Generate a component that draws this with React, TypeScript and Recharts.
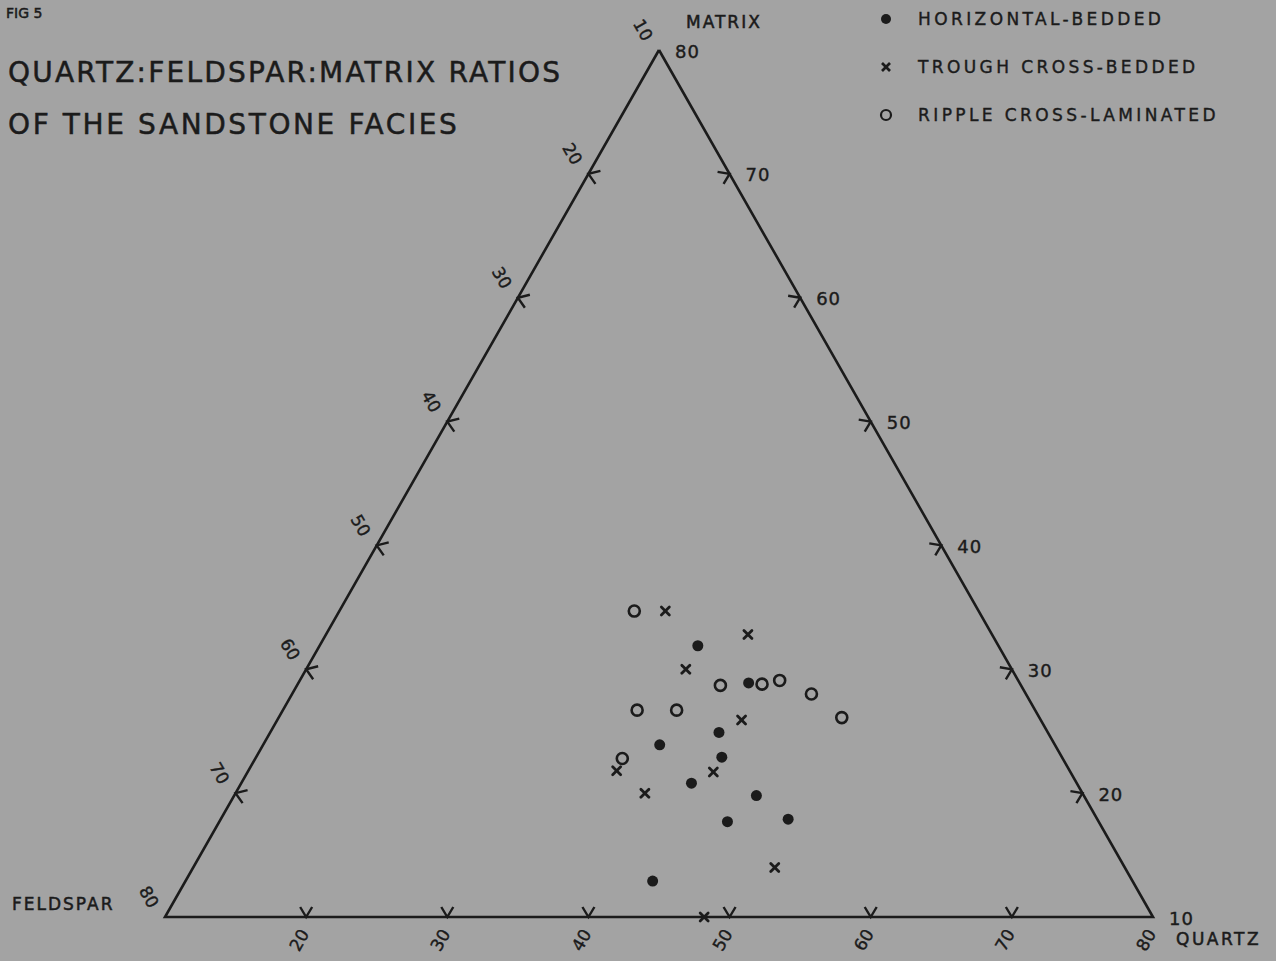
import { ScatterChart, Scatter, XAxis, YAxis, Legend } from 'recharts';

// ternary values (%), each component ranges 10..80 inside the triangle
const horizontalQuartz = [36.8, 41.9, 41.8, 38.1, 43.0, 41.9, 47.0, 46.0, 50.2, 43.1];
const horizontalFeldspar = [31.3, 29.2, 33.3, 38.0, 34.1, 37.3, 33.2, 36.3, 31.9, 44.0];
const horizontalMatrix = [31.9, 28.9, 24.9, 23.9, 22.9, 20.8, 19.8, 17.7, 17.9, 12.9];

const troughQuartz = [33.1, 39.9, 36.9, 42.9, 43.0, 39.0, 51.2, 48.2, 36.1];
const troughFeldspar = [32.2, 27.3, 33.1, 31.2, 35.3, 41.0, 34.8, 41.8, 42.1];
const troughMatrix = [34.7, 32.8, 30.0, 25.9, 21.7, 20.0, 14.0, 10.0, 21.8];

const rippleQuartz = [30.9, 40.0, 42.9, 44.0, 46.8, 35.1, 37.9, 49.9, 36.0];
const rippleFeldspar = [34.4, 31.3, 28.3, 26.9, 25.2, 38.2, 35.4, 24.0, 41.2];
const rippleMatrix = [34.7, 28.7, 28.8, 29.1, 28.0, 26.7, 26.7, 26.1, 22.8];

const feldsparTicks = [20, 30, 40, 50, 60, 70];
const feldsparLabels = [10, 20, 30, 40, 50, 60, 70, 80];
const matrixTicks = [70, 60, 50, 40, 30, 20];
const matrixLabels = [80, 70, 60, 50, 40, 30, 20, 10];
const quartzTicks = [20, 30, 40, 50, 60, 70];
const quartzLabels = [20, 30, 40, 50, 60, 70, 80];

const seriesNames = ['HORIZONTAL-BEDDED', 'TROUGH CROSS-BEDDED', 'RIPPLE CROSS-LAMINATED'];

const INK = '#1b1b1b';
const BG = '#a3a3a3';
const FONT = '"DejaVu Sans", sans-serif';

const W = 1276;
const H = 961;
// plot area mapping: base of triangle 165..1153 px, apex at y=50, base at y=917
const X_MIN = -165 / 988;
const X_MAX = (W - 165) / 988;
const Y_MIN = -(H - 917) / 867;
const Y_MAX = 917 / 867;

const toXY = (q: number, m: number) => {
  const qn = (q - 10) / 70;
  const mn = (m - 10) / 70;
  return { x: qn + mn / 2, y: mn };
};

const buildPoints = (qs: number[], fs: number[], ms: number[]) =>
  qs.map((q, i) => ({ ...toXY(q, ms[i]), q, f: fs[i], m: ms[i] }));

const horizontalData = buildPoints(horizontalQuartz, horizontalFeldspar, horizontalMatrix);
const troughData = buildPoints(troughQuartz, troughFeldspar, troughMatrix);
const rippleData = buildPoints(rippleQuartz, rippleFeldspar, rippleMatrix);

const outline = [toXY(10, 80), toXY(10, 10), toXY(80, 10), toXY(10, 80)];

// left side: quartz = 10, right side: feldspar = 10, base: matrix = 10
const leftTickData = feldsparTicks.map((f) => toXY(10, 90 - f));
const rightTickData = matrixTicks.map((m) => toXY(90 - m, m));
const baseTickData = quartzTicks.map((q) => toXY(q, 10));
const leftLabelData = feldsparLabels.map((f) => ({ ...toXY(10, 90 - f), label: String(f) }));
const rightLabelData = matrixLabels.map((m) => ({ ...toXY(90 - m, m), label: String(m) }));
const baseLabelData = quartzLabels.map((q) => ({ ...toXY(q, 10), label: String(q) }));

const FilledDot = (p: any) => <circle cx={p.cx} cy={p.cy} r={5.5} fill={INK} />;
const OpenDot = (p: any) => (
  <circle cx={p.cx} cy={p.cy} r={5.5} fill="none" stroke={INK} strokeWidth={2.6} />
);
const Cross = (p: any) => (
  <g stroke={INK} strokeWidth={2.8} strokeLinecap="round">
    <line x1={p.cx - 4} y1={p.cy - 4} x2={p.cx + 4} y2={p.cy + 4} />
    <line x1={p.cx - 4} y1={p.cy + 4} x2={p.cx + 4} y2={p.cy - 4} />
  </g>
);

const chevron = (dx1: number, dy1: number, dx2: number, dy2: number) => (p: any) => (
  <polyline
    points={`${p.cx + dx1},${p.cy + dy1} ${p.cx},${p.cy} ${p.cx + dx2},${p.cy + dy2}`}
    fill="none"
    stroke={INK}
    strokeWidth={2.4}
  />
);
const LeftTick = chevron(12, -3, 7, 10);
const RightTick = chevron(-12, -2, -6, 10);
const BaseTick = chevron(-6, -10, 6, -10);

const rotatedLabel = (dx: number, dy: number, angle: number) => (p: any) => {
  const x = p.cx + dx;
  const y = p.cy + dy;
  return (
    <text
      x={x}
      y={y}
      fill={INK}
      fontSize={17}
      fontFamily={FONT}
      stroke={INK}
      strokeWidth={0.4}
      textAnchor="middle"
      dominantBaseline="central"
      transform={`rotate(${angle} ${x} ${y})`}
    >
      {p.payload.label}
    </text>
  );
};
const LeftLabel = rotatedLabel(-16, -20, 60);
const BaseLabel = rotatedLabel(-7, 23, -60);
const RightLabel = (p: any) => (
  <text
    x={p.cx + 16}
    y={p.cy + 1}
    fill={INK}
    stroke={INK}
    strokeWidth={0.4}
    fontSize={18}
    fontFamily={FONT}
    letterSpacing={1}
    dominantBaseline="central"
  >
    {p.payload.label}
  </text>
);

const Nothing = () => <g />;

const legendSymbols = [
  <circle cx={8} cy={8} r={5} fill={INK} />,
  <g stroke={INK} strokeWidth={2.6}>
    <line x1={4} y1={4} x2={12} y2={12} />
    <line x1={4} y1={12} x2={12} y2={4} />
  </g>,
  <circle cx={8} cy={8} r={5} fill="none" stroke={INK} strokeWidth={2.2} />,
];

const renderLegend = () => (
  <div style={{ display: 'flex', flexDirection: 'column', gap: 32 }}>
    {seriesNames.map((name, i) => (
      <div key={name} style={{ display: 'flex', alignItems: 'center', height: 16 }}>
        <svg width={16} height={16} style={{ marginRight: 24 }}>
          {legendSymbols[i]}
        </svg>
        <span
          style={{
            fontFamily: FONT,
            fontSize: 17,
            letterSpacing: 3.4,
            color: INK,
            lineHeight: '16px',
            WebkitTextStroke: '0.4px ' + INK,
          }}
        >
          {name}
        </span>
      </div>
    ))}
  </div>
);

const textStyle = (extra: any) => ({
  position: 'absolute' as const,
  fontFamily: FONT,
  color: INK,
  whiteSpace: 'nowrap' as const,
  lineHeight: 1,
  WebkitTextStroke: '0.5px ' + INK,
  ...extra,
});

export default function App() {
  return (
    <div style={{ position: 'absolute', top: 0, left: 0, width: W, height: H, background: BG, overflow: 'hidden' }}>
      <ScatterChart width={W} height={H} margin={{ top: 0, right: 0, bottom: 0, left: 0 }}>
        <XAxis type="number" dataKey="x" domain={[X_MIN, X_MAX]} allowDataOverflow hide />
        <YAxis type="number" dataKey="y" domain={[Y_MIN, Y_MAX]} allowDataOverflow hide />
        <Scatter data={outline} line={{ stroke: INK, strokeWidth: 2.6 }} shape={Nothing} legendType="none" isAnimationActive={false} />
        <Scatter data={leftTickData} shape={LeftTick} legendType="none" isAnimationActive={false} />
        <Scatter data={rightTickData} shape={RightTick} legendType="none" isAnimationActive={false} />
        <Scatter data={baseTickData} shape={BaseTick} legendType="none" isAnimationActive={false} />
        <Scatter data={leftLabelData} shape={LeftLabel} legendType="none" isAnimationActive={false} />
        <Scatter data={rightLabelData} shape={RightLabel} legendType="none" isAnimationActive={false} />
        <Scatter data={baseLabelData} shape={BaseLabel} legendType="none" isAnimationActive={false} />
        <Scatter name={seriesNames[0]} data={horizontalData} shape={FilledDot} isAnimationActive={false} />
        <Scatter name={seriesNames[1]} data={troughData} shape={Cross} isAnimationActive={false} />
        <Scatter name={seriesNames[2]} data={rippleData} shape={OpenDot} isAnimationActive={false} />
        <Legend
          content={renderLegend}
          layout="horizontal"
          verticalAlign="middle"
          align="center"
          wrapperStyle={{ top: 11, left: 878, width: 390 }}
        />
      </ScatterChart>
      <div style={textStyle({ left: 6, top: 6, fontSize: 14 })}>FIG 5</div>
      <div style={textStyle({ left: 8, top: 59, fontSize: 28, letterSpacing: 2.2 })}>
        QUARTZ:FELDSPAR:MATRIX RATIOS
      </div>
      <div style={textStyle({ left: 8, top: 111, fontSize: 28, letterSpacing: 2.6 })}>
        OF THE SANDSTONE FACIES
      </div>
      <div style={textStyle({ left: 686, top: 14, fontSize: 17, letterSpacing: 2 })}>MATRIX</div>
      <div style={textStyle({ left: 12, top: 896, fontSize: 17, letterSpacing: 2 })}>FELDSPAR</div>
      <div style={textStyle({ left: 1176, top: 931, fontSize: 17, letterSpacing: 2.5 })}>QUARTZ</div>
    </div>
  );
}
